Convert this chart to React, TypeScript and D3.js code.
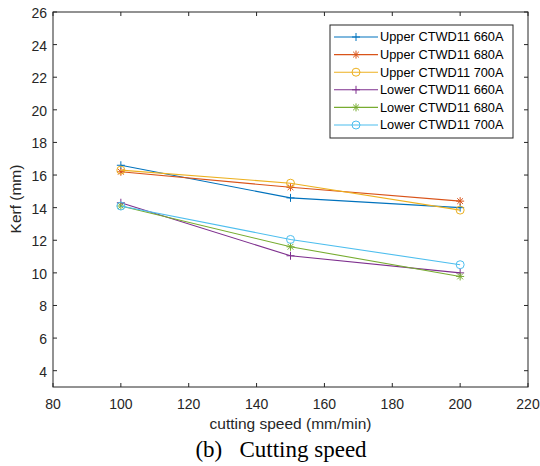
import React from "react";
import * as d3 from "d3";

// cutting speed (mm/min)
const speeds = [100, 150, 200];

const seriesNames = [
  "Upper CTWD11 660A",
  "Upper CTWD11 680A",
  "Upper CTWD11 700A",
  "Lower CTWD11 660A",
  "Lower CTWD11 680A",
  "Lower CTWD11 700A",
];

const upper660 = [16.6, 14.6, 14.0];
const upper680 = [16.2, 15.25, 14.4];
const upper700 = [16.3, 15.5, 13.85];
const lower660 = [14.3, 11.05, 10.0];
const lower680 = [14.1, 11.6, 9.78];
const lower700 = [14.1, 12.05, 10.5];

const seriesValues = [upper660, upper680, upper700, lower660, lower680, lower700];
const seriesColors = ["#0072BD", "#D95319", "#EDB120", "#7E2F8E", "#77AC30", "#4DBEEE"];
const seriesMarkers = ["plus", "star", "circle", "plus", "star", "circle"];

const xTicks = [80, 100, 120, 140, 160, 180, 200, 220];
const yTicks = [4, 6, 8, 10, 12, 14, 16, 18, 20, 22, 24, 26];

const W = 540;
const H = 466;
const left = 53;
const right = 528;
const top = 12;
const bottom = 387;

const axisColor = "#262626";
const font = "'Liberation Sans', Arial, sans-serif";

function Marker({ kind, x, y, color }: { kind: string; x: number; y: number; color: string }) {
  const r = 4;
  if (kind === "circle") {
    return <circle cx={x} cy={y} r={r} fill="none" stroke={color} strokeWidth={1} />;
  }
  if (kind === "plus") {
    return (
      <path d={`M${x - r},${y}H${x + r}M${x},${y - r}V${y + r}`} stroke={color} strokeWidth={1} />
    );
  }
  const d = r * 0.72;
  return (
    <path
      d={`M${x - r},${y}H${x + r}M${x},${y - r}V${y + r}M${x - d},${y - d}L${x + d},${y + d}M${x - d},${y + d}L${x + d},${y - d}`}
      stroke={color}
      strokeWidth={1}
    />
  );
}

export default function App() {
  const x = d3.scaleLinear().domain([80, 220]).range([left, right]);
  const y = d3.scaleLinear().domain([3, 26]).range([bottom, top]);

  const lineGen = d3
    .line<number>()
    .x((_, i) => x(speeds[i]))
    .y((d) => y(d));

  const tickLen = 4;

  // legend layout
  const lgX = 330;
  const lgY = 25;
  const lgW = 183;
  const lgH = 113;
  const rowH = 17.6;

  return (
    <svg
      width={W}
      height={H}
      style={{ position: "absolute", left: 0, top: 0, background: "#fff" }}
      fontFamily={font}
    >
      <rect x={0} y={0} width={W} height={H} fill="#fff" />

      {/* series */}
      {seriesValues.map((vals, si) => (
        <g key={seriesNames[si]}>
          <path d={lineGen(vals) || ""} fill="none" stroke={seriesColors[si]} strokeWidth={1.1} />
          {vals.map((v, i) => (
            <Marker key={i} kind={seriesMarkers[si]} x={x(speeds[i])} y={y(v)} color={seriesColors[si]} />
          ))}
        </g>
      ))}

      {/* axes box */}
      <rect x={left} y={top} width={right - left} height={bottom - top} fill="none" stroke={axisColor} strokeWidth={1} />

      {/* x ticks */}
      {xTicks.map((t) => (
        <g key={"x" + t}>
          <line x1={x(t)} x2={x(t)} y1={bottom} y2={bottom - tickLen} stroke={axisColor} />
          <line x1={x(t)} x2={x(t)} y1={top} y2={top + tickLen} stroke={axisColor} />
          <text x={x(t)} y={bottom + 22} textAnchor="middle" fontSize={14} fill={axisColor}>
            {t}
          </text>
        </g>
      ))}

      {/* y ticks */}
      {yTicks.map((t) => (
        <g key={"y" + t}>
          <line x1={left} x2={left + tickLen} y1={y(t)} y2={y(t)} stroke={axisColor} />
          <line x1={right} x2={right - tickLen} y1={y(t)} y2={y(t)} stroke={axisColor} />
          <text x={left - 6} y={y(t) + 1} dy="0.35em" textAnchor="end" fontSize={14} fill={axisColor}>
            {t}
          </text>
        </g>
      ))}

      {/* axis labels */}
      <text x={(left + right) / 2} y={429} textAnchor="middle" fontSize={15.5} fill={axisColor}>
        cutting speed (mm/min)
      </text>
      <text
        transform={`translate(21,199) rotate(-90)`}
        textAnchor="middle"
        fontSize={15.5}
        fill={axisColor}
      >
        Kerf (mm)
      </text>

      {/* legend */}
      <rect x={lgX} y={lgY} width={lgW} height={lgH} fill="#fff" stroke={axisColor} strokeWidth={1} />
      {seriesNames.map((name, i) => {
        const cy = lgY + 12 + i * rowH;
        return (
          <g key={"lg" + name}>
            <line x1={lgX + 4} x2={lgX + 48} y1={cy} y2={cy} stroke={seriesColors[i]} strokeWidth={1.1} />
            <Marker kind={seriesMarkers[i]} x={lgX + 26} y={cy} color={seriesColors[i]} />
            <text x={lgX + 50} y={cy} dy="0.35em" fontSize={12.8} fill="#000">
              {name}
            </text>
          </g>
        );
      })}

      {/* caption */}
      <text
        x={281}
        y={457}
        textAnchor="middle"
        fontSize={23}
        fontFamily="'Liberation Serif', 'Times New Roman', serif"
        fill="#000"
        xmlSpace="preserve"
      >
        (b)   Cutting speed
      </text>
    </svg>
  );
}
